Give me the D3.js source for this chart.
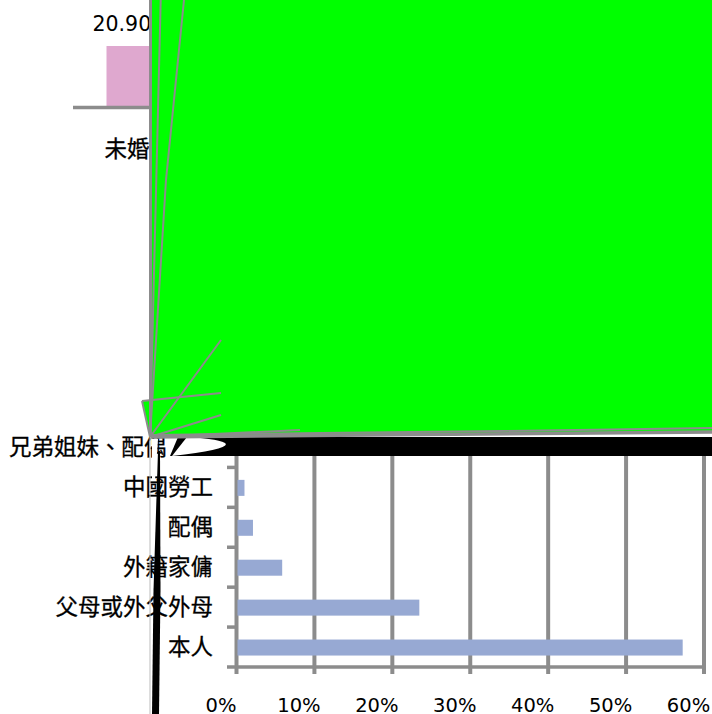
<!DOCTYPE html>
<html><head><meta charset="utf-8">
<script src="https://cdn.jsdelivr.net/npm/d3@7/dist/d3.min.js"></script>
<style>html,body{margin:0;padding:0;background:#fff}svg{display:block}
text{font-family:"DejaVu Sans",sans-serif;fill:#000}
text.cjk{font-family:"Noto Sans CJK TC","Noto Sans CJK SC",sans-serif;stroke:#000;stroke-width:.3}</style>
</head><body><svg id="c" width="712" height="714"></svg>
<script>
const categories=["本人","父母或外父外母","外籍家傭","配偶","中國勞工","兄弟姐妹、配偶"];
const shareValues=[57.2,23.4,5.8,2.05,0.96,0];
const xTicks=[0,10,20,30,40,50,60];
const upperCategories=["未婚"];
const upperValues=[20.90];

const svg=d3.select("#c");
const gray="#8c8c8c";
// upper (mostly covered) chart
const upperY=d3.scaleLinear().domain([0,20.9]).range([107,46]);
svg.selectAll("rect.up").data(upperValues).join("rect").attr("class","up")
  .attr("x",106.5).attr("y",d=>upperY(d)).attr("width",60).attr("height",d=>upperY(0)-upperY(d)).attr("fill","#dfa8cf");
svg.append("line").attr("x1",73).attr("x2",200).attr("y1",107.5).attr("y2",107.5).attr("stroke",gray).attr("stroke-width",3.5);
svg.append("text").attr("x",92.5).attr("y",30.5).attr("font-size",20.5).text(upperValues[0].toFixed(2));
svg.append("text").attr("class","cjk").attr("x",104.5).attr("y",157).attr("font-size",22.5).text(upperCategories[0]);

// lower bar chart
const x=d3.scaleLinear().domain([0,60]).range([236.5,704]);
const y=d3.scaleBand().domain(categories).range([666.5,427]);
svg.selectAll("line.grid").data(xTicks).join("line").attr("class","grid")
  .attr("x1",d=>x(d)).attr("x2",d=>x(d)).attr("y1",450).attr("y2",674).attr("stroke",gray).attr("stroke-width",4);
svg.selectAll("rect.bar").data(shareValues).join("rect").attr("class","bar")
  .attr("x",x(0)+1).attr("width",d=>x(d)-x(0)-0.5)
  .attr("y",(d,i)=>y(categories[i])+y.bandwidth()/2-7).attr("height",16).attr("fill","#97a9d3");
svg.append("line").attr("x1",x(0)).attr("x2",x(60)).attr("y1",667).attr("y2",667).attr("stroke",gray).attr("stroke-width",3.5);
const yTicks=d3.range(categories.length+1).map(i=>667-i*y.step());
svg.selectAll("line.yt").data(yTicks).join("line").attr("class","yt")
  .attr("x1",227).attr("x2",x(0)).attr("y1",d=>d).attr("y2",d=>d).attr("stroke",gray).attr("stroke-width",3.5);
svg.selectAll("text.cat").data(categories).join("text").attr("class","cjk cat")
  .attr("x",(d,i)=>i===5?166.5:213).attr("y",d=>y(d)+y.bandwidth()/2+8).attr("text-anchor","end").attr("font-size",22.5).text(d=>d);
svg.selectAll("text.xt").data(xTicks).join("text").attr("class","xt")
  .attr("x",d=>x(d)-15.5).attr("y",712).attr("text-anchor","middle").attr("font-size",19.5).text(d=>d+"%");

// overlay artefacts
const line=d3.line();
svg.append("path").attr("fill","#000").attr("d","M170,456 L178,437 L712,437 L712,456 Z");
svg.append("path").attr("fill","#fff").attr("d","M172,456 Q226,450 226,444 Q222,439 187,437 Z");
svg.append("path").attr("fill","#0f0").attr("d",line([[150,0],[712,0],[712,432],[150,437],[142,401],[150,400]])+"Z");
const spokes=[[[160.7,0],[150,437]],[[184,0],[166,180],[150,437]],[[150,437],[221,340]],[[142,401],[221,393]],[[150,437],[221,415]],[[150,437],[300,430]],[[142,401],[150,437]],[[150,435],[500,431],[712,428]]];
spokes.forEach(p=>svg.append("path").attr("fill","none").attr("stroke",gray).attr("stroke-width",2).attr("d",line(p)));
svg.append("line").attr("x1",150.5).attr("x2",150.5).attr("y1",0).attr("y2",437).attr("stroke",gray).attr("stroke-width",3);
svg.append("line").attr("x1",150).attr("x2",712).attr("y1",437).attr("y2",432).attr("stroke",gray).attr("stroke-width",3.5);
svg.append("path").attr("fill","#fff").attr("d",line([[152,439],[158,439],[155,480],[152,480]])+"Z");
svg.append("line").attr("x1",150).attr("x2",150).attr("y1",437).attr("y2",714).attr("stroke","#bbb").attr("stroke-width",1);
svg.append("path").attr("fill","#000").attr("d",line([[158,451],[160,451],[160.5,590],[159,714],[152,714],[153.5,590]])+"Z");
</script></body></html>
